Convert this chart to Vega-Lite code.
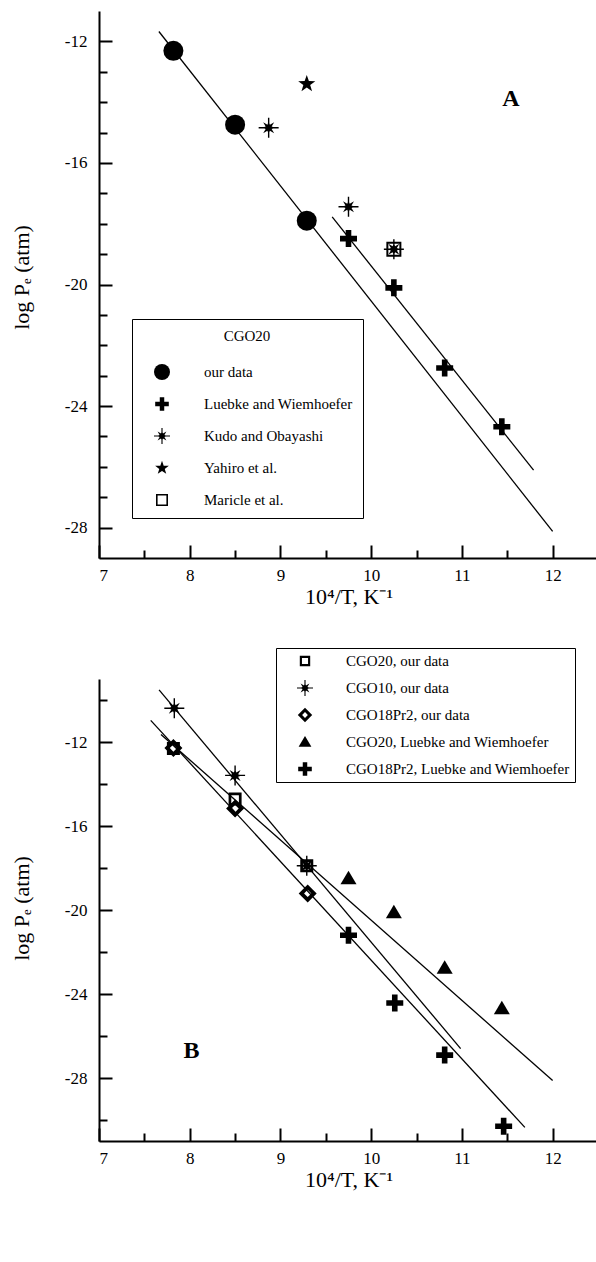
{
  "$schema": "https://vega.github.io/schema/vega-lite/v6.json",
  "background": "white",
  "padding": {"left": 10, "top": 11, "right": 0, "bottom": 5},
  "bounds": "flush",
  "spacing": 121,
  "config": {
    "view": {"stroke": null},
    "font": "Liberation Serif",
    "axis": {
      "domainColor": "black", "domainWidth": 2, "tickColor": "black", "tickWidth": 2,
      "labelColor": "black", "titleColor": "black", "labelFont": "Liberation Serif", "titleFont": "Liberation Serif",
      "labelFontSize": 17, "titleFontSize": 22, "titleFontWeight": "normal", "grid": false
    },
    "legend": {
      "labelFont": "Liberation Serif", "titleFont": "Liberation Serif", "labelColor": "black", "titleColor": "black",
      "symbolFillColor": "black", "symbolStrokeColor": "black", "symbolStrokeWidth": 0, "symbolOpacity": 1,
      "strokeColor": "black", "fillColor": "white", "labelLimit": 400
    }
  },
  "datasets": {
    "linesA": [
      {"x1": 7.66, "y1": -11.675, "x2": 12.0, "y2": -28.125},
      {"x1": 9.57, "y1": -17.775, "x2": 11.79, "y2": -26.11}
    ],
    "pointsA": [
      {"series": "our data", "x": 7.82, "y": -12.31},
      {"series": "our data", "x": 8.5, "y": -14.74},
      {"series": "our data", "x": 9.29, "y": -17.9},
      {"series": "Luebke and Wiemhoefer", "x": 9.75, "y": -18.49},
      {"series": "Luebke and Wiemhoefer", "x": 10.25, "y": -20.11},
      {"series": "Luebke and Wiemhoefer", "x": 10.81, "y": -22.75},
      {"series": "Luebke and Wiemhoefer", "x": 11.44, "y": -24.68},
      {"series": "Maricle et al.", "x": 10.25, "y": -18.84},
      {"series": "Kudo and Obayashi", "x": 8.87, "y": -14.84},
      {"series": "Kudo and Obayashi", "x": 9.75, "y": -17.44},
      {"series": "Kudo and Obayashi", "x": 10.25, "y": -18.84},
      {"series": "Yahiro et al.", "x": 9.29, "y": -13.4}
    ],
    "linesB": [
      {"x1": 7.662, "y1": -9.52, "x2": 10.986, "y2": -26.6},
      {"x1": 7.57, "y1": -10.97, "x2": 11.694, "y2": -30.35},
      {"x1": 7.683, "y1": -11.64, "x2": 12.0, "y2": -28.12}
    ],
    "pointsB": [
      {"series": "CGO10, our data", "x": 7.83, "y": -10.39},
      {"series": "CGO10, our data", "x": 8.5, "y": -13.59},
      {"series": "CGO10, our data", "x": 9.29, "y": -17.89},
      {"series": "CGO20, our data", "x": 7.82, "y": -12.31},
      {"series": "CGO20, our data", "x": 8.5, "y": -14.72},
      {"series": "CGO20, our data", "x": 9.29, "y": -17.89},
      {"series": "CGO18Pr2, our data", "x": 7.82, "y": -12.29},
      {"series": "CGO18Pr2, our data", "x": 8.5, "y": -15.17},
      {"series": "CGO18Pr2, our data", "x": 9.3, "y": -19.21},
      {"series": "CGO20, Luebke and Wiemhoefer", "x": 9.75, "y": -18.49},
      {"series": "CGO20, Luebke and Wiemhoefer", "x": 10.25, "y": -20.11},
      {"series": "CGO20, Luebke and Wiemhoefer", "x": 10.81, "y": -22.75},
      {"series": "CGO20, Luebke and Wiemhoefer", "x": 11.44, "y": -24.68},
      {"series": "CGO18Pr2, Luebke and Wiemhoefer", "x": 9.75, "y": -21.2},
      {"series": "CGO18Pr2, Luebke and Wiemhoefer", "x": 10.26, "y": -24.43},
      {"series": "CGO18Pr2, Luebke and Wiemhoefer", "x": 10.81, "y": -26.91},
      {"series": "CGO18Pr2, Luebke and Wiemhoefer", "x": 11.46, "y": -30.3}
    ]
  },
  "vconcat": [
    {
      "width": 499,
      "height": 547,
      "layer": [
        {
          "data": {"name": "linesA"},
          "mark": {"type": "rule", "color": "black", "strokeWidth": 1.3},
          "encoding": {
            "x": {"field": "x1", "type": "quantitative", "scale": {"domain": [7, 12.5], "nice": false, "zero": false},
                  "axis": {"orient": "bottom", "values": [7.5, 8.5, 9.5, 10.5, 11.5], "tickSize": -8, "labels": false, "domain": false, "title": null}},
            "y": {"field": "y1", "type": "quantitative", "scale": {"domain": [-29, -11], "nice": false, "zero": false},
                  "axis": {"orient": "left", "values": [-13, -14, -15, -17, -18, -19, -21, -22, -23, -25, -26, -27], "tickSize": -8, "labels": false, "domain": false, "title": null}},
            "x2": {"field": "x2"},
            "y2": {"field": "y2"}
          }
        },
        {
          "data": {"name": "pointsA"},
          "mark": {"type": "point", "filled": true, "color": "black", "opacity": 1, "size": 400, "strokeWidth": 0},
          "encoding": {
            "x": {"field": "x", "type": "quantitative", "scale": {"domain": [7, 12.5], "nice": false, "zero": false},
                  "axis": {"orient": "bottom", "values": [7, 8, 9, 10, 11, 12], "tickSize": -13, "labelPadding": 22, "title": "10⁴/T, K⁻¹", "titlePadding": 3}},
            "y": {"field": "y", "type": "quantitative", "scale": {"domain": [-29, -11], "nice": false, "zero": false},
                  "axis": {"orient": "left", "values": [-12, -16, -20, -24, -28], "tickSize": -13, "labelPadding": 25, "labelExpr": "'' + datum.value",
                           "title": "log Pₑ (atm)", "titleX": -78, "titleY": 266, "titleBaseline": "middle"}},
            "shape": {
              "field": "series", "type": "nominal",
              "scale": {
                "domain": ["our data", "Luebke and Wiemhoefer", "Kudo and Obayashi", "Yahiro et al.", "Maricle et al."],
                "range": [
                  "circle",
                  "M-0.28,-0.85L0.28,-0.85L0.28,-0.28L0.85,-0.28L0.85,0.28L0.28,0.28L0.28,0.85L-0.28,0.85L-0.28,0.28L-0.85,0.28L-0.85,-0.28L-0.28,-0.28Z",
                  "M0.65,0L0.3,0.124L0.55,0.55L0.124,0.3L0,0.65L-0.124,0.3L-0.55,0.55L-0.3,0.124L-0.65,0L-0.3,-0.124L-0.55,-0.55L-0.124,-0.3L0,-0.65L0.124,-0.3L0.55,-0.55L0.3,-0.124ZM-0.07,-1L0.07,-1L0.07,1L-0.07,1ZM-1,-0.07L1,-0.07L1,0.07L-1,0.07Z",
                  "M0,-0.9L0.212,-0.291L0.856,-0.278L0.342,0.111L0.529,0.728L0,0.36L-0.529,0.728L-0.342,0.111L-0.856,-0.278L-0.212,-0.291Z",
                  "M-0.75,-0.75L0.75,-0.75L0.75,0.75L-0.75,0.75ZM-0.55,-0.55L-0.55,0.55L0.55,0.55L0.55,-0.55Z"
                ]
              },
              "legend": {
                "title": "CGO20", "orient": "none", "legendX": 33, "legendY": 308, "padding": 10,
                "titleAnchor": "middle", "titleFontSize": 15, "titleFontWeight": "normal", "titlePadding": 20,
                "labelFontSize": 15, "symbolSize": 256, "symbolOffset": 12, "labelOffset": 34, "rowPadding": 16
              }
            }
          }
        },
        {
          "data": {"values": [{"x": 11.54, "y": -13.9, "label": "A"}]},
          "mark": {"type": "text", "fontSize": 24, "fontWeight": "bold", "font": "Liberation Serif", "color": "black"},
          "encoding": {
            "x": {"field": "x", "type": "quantitative", "axis": null},
            "y": {"field": "y", "type": "quantitative", "axis": null},
            "text": {"field": "label"}
          }
        }
      ],
      "resolve": {"axis": {"x": "independent", "y": "independent"}}
    },
    {
      "width": 499,
      "height": 462,
      "layer": [
        {
          "data": {"name": "linesB"},
          "mark": {"type": "rule", "color": "black", "strokeWidth": 1.3},
          "encoding": {
            "x": {"field": "x1", "type": "quantitative", "scale": {"domain": [7, 12.5], "nice": false, "zero": false},
                  "axis": {"orient": "bottom", "values": [7.5, 8.5, 9.5, 10.5, 11.5], "tickSize": -8, "labels": false, "domain": false, "title": null}},
            "y": {"field": "y1", "type": "quantitative", "scale": {"domain": [-31, -9], "nice": false, "zero": false},
                  "axis": {"orient": "left", "values": [-10, -14, -18, -22, -26, -30], "tickSize": -8, "labels": false, "domain": false, "title": null}},
            "x2": {"field": "x2"},
            "y2": {"field": "y2"}
          }
        },
        {
          "data": {"name": "pointsB"},
          "mark": {"type": "point", "filled": true, "color": "black", "opacity": 1, "size": 400, "strokeWidth": 0},
          "encoding": {
            "x": {"field": "x", "type": "quantitative", "scale": {"domain": [7, 12.5], "nice": false, "zero": false},
                  "axis": {"orient": "bottom", "values": [7, 8, 9, 10, 11, 12], "tickSize": -13, "labelPadding": 22, "title": "10⁴/T, K⁻¹", "titlePadding": 3}},
            "y": {"field": "y", "type": "quantitative", "scale": {"domain": [-31, -9], "nice": false, "zero": false},
                  "axis": {"orient": "left", "values": [-12, -16, -20, -24, -28], "tickSize": -13, "labelPadding": 25, "labelExpr": "'' + datum.value",
                           "title": "log Pₑ (atm)", "titleX": -78, "titleY": 229, "titleBaseline": "middle"}},
            "shape": {
              "field": "series", "type": "nominal",
              "scale": {
                "domain": ["CGO20, our data", "CGO10, our data", "CGO18Pr2, our data", "CGO20, Luebke and Wiemhoefer", "CGO18Pr2, Luebke and Wiemhoefer"],
                "range": [
                  "M-0.65,-0.65L0.65,-0.65L0.65,0.65L-0.65,0.65ZM-0.38,-0.38L-0.38,0.38L0.38,0.38L0.38,-0.38Z",
                  "M0.65,0L0.3,0.124L0.55,0.55L0.124,0.3L0,0.65L-0.124,0.3L-0.55,0.55L-0.3,0.124L-0.65,0L-0.3,-0.124L-0.55,-0.55L-0.124,-0.3L0,-0.65L0.124,-0.3L0.55,-0.55L0.3,-0.124ZM-0.07,-1L0.07,-1L0.07,1L-0.07,1ZM-1,-0.07L1,-0.07L1,0.07L-1,0.07Z",
                  "M0,-0.9L0.9,0L0,0.9L-0.9,0ZM0,-0.36L-0.36,0L0,0.36L0.36,0Z",
                  "M0,-0.75L0.8,0.6L-0.8,0.6Z",
                  "M-0.28,-0.85L0.28,-0.85L0.28,-0.28L0.85,-0.28L0.85,0.28L0.28,0.28L0.28,0.85L-0.28,0.85L-0.28,0.28L-0.85,0.28L-0.85,-0.28L-0.28,-0.28Z"
                ]
              },
              "legend": {
                "title": null, "orient": "none", "legendX": 177, "legendY": -31, "padding": 5,
                "labelFontSize": 15, "symbolSize": 256, "symbolOffset": 16, "labelOffset": 33, "rowPadding": 11
              }
            }
          }
        },
        {
          "data": {"values": [{"x": 8.02, "y": -26.73, "label": "B"}]},
          "mark": {"type": "text", "fontSize": 24, "fontWeight": "bold", "font": "Liberation Serif", "color": "black"},
          "encoding": {
            "x": {"field": "x", "type": "quantitative", "axis": null},
            "y": {"field": "y", "type": "quantitative", "axis": null},
            "text": {"field": "label"}
          }
        }
      ],
      "resolve": {"axis": {"x": "independent", "y": "independent"}}
    }
  ],
  "resolve": {"scale": {"x": "independent", "y": "independent", "shape": "independent"}, "legend": {"shape": "independent"}}
}
